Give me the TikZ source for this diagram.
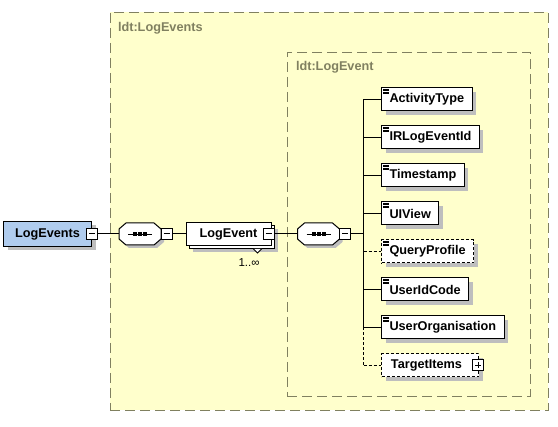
\documentclass[tikz,border=0pt]{standalone}
\usepackage{fontspec}
\setmainfont{Liberation Sans}
\usetikzlibrary{positioning, shadows, fit}
\definecolor{boxline}{RGB}{128,128,96}
\definecolor{boxfill}{RGB}{255,255,204}
\definecolor{rootfill}{RGB}{176,204,238}
\definecolor{shadowgray}{RGB}{190,190,190}

% octagon of a sequence compositor round the (invisible) node #1
\newcommand{\seqoutline}[1]{%
  \draw[fill=white, general shadow={fill=shadowgray, shadow xshift=3pt, shadow yshift=-3pt}]
    ([xshift=7pt]#1.north west) -- ([xshift=-7pt]#1.north east)
    -- ([yshift=-6pt]#1.north east) -- ([yshift=6pt]#1.south east)
    -- ([xshift=-7pt]#1.south east) -- ([xshift=7pt]#1.south west)
    -- ([yshift=6pt]#1.south west) -- ([yshift=-6pt]#1.north west) -- cycle;
  \draw[line width=0.8pt] ([xshift=-12pt]#1.center) -- ([xshift=12pt]#1.center);
  \foreach \dx in {-5,0,5}
    \fill ([xshift={(\dx-2)*1pt}, yshift=-2pt]#1.center) rectangle ++(4pt,4pt);
}

\begin{document}
\begin{tikzpicture}[
      x=1pt, y=-1pt,
      line width=1pt,
      every node/.style={font=\fontsize{12.7}{15}\selectfont\bfseries},
      shadowed/.style={
        general shadow={fill=shadowgray, shadow xshift=4pt, shadow yshift=-4pt},
      },
      elembase/.style={
        rectangle, draw, fill=white, minimum height=23pt,
        inner xsep=8pt, inner ysep=0pt, shadowed,
      },
      elem/.style={
        elembase,
        path picture={
          \foreach \k in {0,...,3}
            \draw[solid, line width=0.5pt]
              ([xshift=1.5pt, yshift=-1.2pt-1.45pt*\k]path picture bounding box.north west) -- ++(5.5pt,0pt);
        },
      },
      optional/.style={dash pattern=on 3pt off 2pt},
      root/.style={elembase, fill=rootfill, minimum width=88pt, minimum height=25pt},
      repeated/.style={
        rectangle, draw, fill=white, minimum height=23pt, minimum width=85pt,
        inner xsep=8pt, inner ysep=0pt,
        general shadow={fill=shadowgray, shadow xshift=7pt, shadow yshift=-7pt},
        copy shadow={shadow xshift=3pt, shadow yshift=-3pt},
      },
      seq/.style={rectangle, minimum width=42pt, minimum height=22pt, inner sep=0pt, outer sep=0pt},
      togglebox/.style={rectangle, draw, fill=white, minimum size=11pt, inner sep=0pt},
      minusbox/.style={
        togglebox,
        path picture={
          \draw ([xshift=2.5pt]path picture bounding box.west)
            -- ([xshift=-2.5pt]path picture bounding box.east);
        },
      },
      plusbox/.style={
        togglebox,
        path picture={
          \draw ([xshift=2.5pt]path picture bounding box.west)
            -- ([xshift=-2.5pt]path picture bounding box.east);
          \draw ([yshift=-2.5pt]path picture bounding box.north)
            -- ([yshift=2.5pt]path picture bounding box.south);
        },
      },
      container/.style={
        rectangle, draw=boxline, fill=boxfill, dash pattern=on 10pt off 5pt, inner sep=0pt,
      },
      caption/.style={text=boxline, anchor=base west, inner sep=0pt},
      mult/.style={font=\fontsize{11.5}{13}\selectfont},
      link/.style={draw, line width=1pt},
    ]
      % layers
      \pgfdeclarelayer{background}
      \pgfsetlayers{background,main}

      \useasboundingbox (0,0) rectangle (558,427);

      % root element and first sequence
      \node[root, anchor=west] (LogEvents) at (3,234) {LogEvents};
      \node[minusbox] (LogEvents-m) at (LogEvents.east) {};
      \node[seq, right=21pt of LogEvents-m] (seqA) {};
      \seqoutline{seqA}
      \node[minusbox, right=-0.5pt of seqA] (seqA-m) {};

      % repeated LogEvent element
      \node[repeated, right=13pt of seqA-m] (LogEvent) {LogEvent};
      \node[minusbox] (LogEvent-m) at ([xshift=-3pt]LogEvent.east) {};
      \draw[fill=white, line width=0.8pt] ([xshift=25pt, yshift=-3pt]LogEvent.south) -- ++(4,4) -- ++(4,-4);
      \node[mult] (LogEvent-mult) at ([xshift=20.5pt, yshift=-17pt]LogEvent.south) {1..∞};

      % second sequence
      \node[seq, right=23pt of LogEvent-m] (seqB) {};
      \seqoutline{seqB}
      \node[minusbox, right=-0.5pt of seqB] (seqB-m) {};
      \coordinate[right=12.5pt of seqB-m] (trunk);

      % child elements
      \node[elem, anchor=west] (ActivityType) at (381,99.5) {ActivityType};
      \node[elem, below=14pt of ActivityType.south west, anchor=north west] (IRLogEventId) {IRLogEventId};
      \node[elem, below=14pt of IRLogEventId.south west, anchor=north west] (Timestamp) {Timestamp};
      \node[elem, below=14pt of Timestamp.south west, anchor=north west] (UIView) {UIView};
      \node[elem, optional, below=14pt of UIView.south west, anchor=north west] (QueryProfile) {QueryProfile};
      \node[elem, below=14pt of QueryProfile.south west, anchor=north west] (UserIdCode) {UserIdCode};
      \node[elem, below=14pt of UserIdCode.south west, anchor=north west] (UserOrganisation) {UserOrganisation};
      \node[elembase, optional, minimum width=97pt, below=14pt of UserOrganisation.south west, anchor=north west] (TargetItems) {TargetItems\hspace*{7pt}};
      \node[plusbox] (TargetItems-p) at ([xshift=-1pt]TargetItems.east) {};

      % connectors
      \draw[link] (LogEvents-m) -- (seqA);
      \draw[link] (seqA-m) -- (LogEvent);
      \draw[link] (LogEvent-m) -- (seqB);
      \draw[link] (seqB-m) -- (trunk);
      \draw[link] (trunk |- ActivityType.west) -- (trunk |- UserOrganisation.west);
      \draw[link, optional] (trunk |- UserOrganisation.west) -- (trunk |- TargetItems.west);
      \foreach \child in {ActivityType, IRLogEventId, Timestamp, UIView, UserIdCode, UserOrganisation}
        \draw[link] (trunk |- \child.west) -- (\child.west);
      \foreach \child in {QueryProfile, TargetItems}
        \draw[link, optional] (trunk |- \child.west) -- (\child.west);

      % container background
      \begin{pgfonlayer}{background}
        \node[container, fit={(110,12) (548,410)}] (outerbox) {};
        \node[caption] at ([xshift=8pt, yshift=-20pt]outerbox.north west) {ldt:LogEvents};
        \node[container, fit={(287,52) (530,396)}] (innerbox) {};
        \node[caption] at ([xshift=9pt, yshift=-19pt]innerbox.north west) {ldt:LogEvent};
      \end{pgfonlayer}
    \end{tikzpicture}
\end{document}
